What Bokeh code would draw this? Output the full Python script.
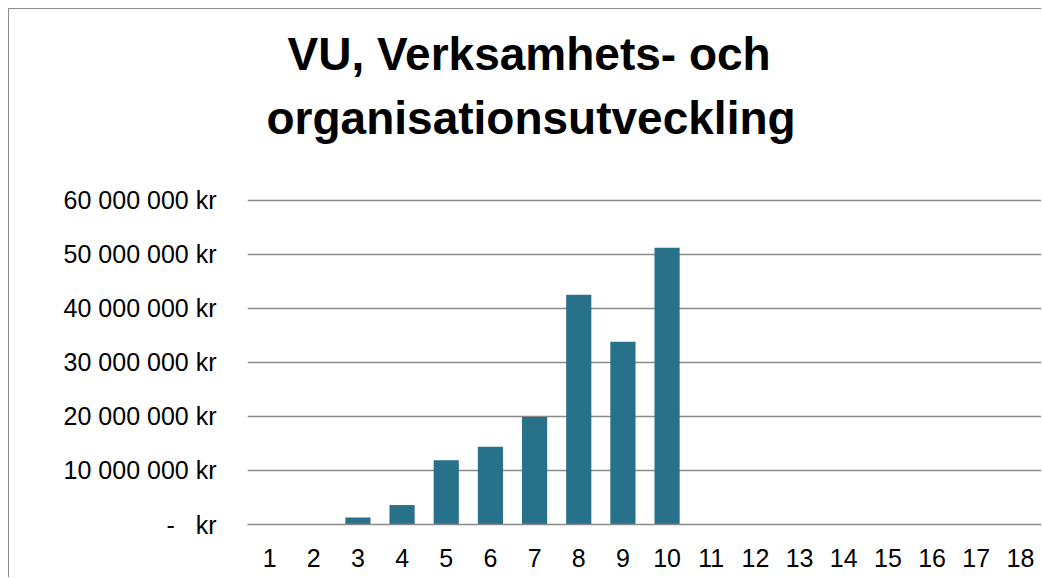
from bokeh.plotting import figure
from bokeh.models import FixedTicker, Title, ColumnDataSource
from bokeh.embed import file_html
from bokeh.resources import INLINE

categories = [str(i) for i in range(1, 19)]
values = [0, 0, 1300000, 3600000, 11900000, 14400000, 19900000, 42500000,
          33800000, 51200000, 0, 0, 0, 0, 0, 0, 0, 0]
y_ticks = [0, 10000000, 20000000, 30000000, 40000000, 50000000, 60000000]
y_tick_labels = ["-\u00a0\u00a0\u00a0kr", "10 000 000 kr", "20 000 000 kr",
                 "30 000 000 kr", "40 000 000 kr", "50 000 000 kr", "60 000 000 kr"]
title_lines = ["VU, Verksamhets- och", "organisationsutveckling"]

FONT = "Liberation Sans"
GRID = "#8a8a8a"
BAR = "#28718A"

p = figure(x_range=categories, y_range=(0, 60500000), width=1033, height=569,
           output_backend="svg", toolbar_location=None,
           min_border_left=238, min_border_right=0, min_border_bottom=54,
           min_border_top=188)
p.styles = {"margin-left": "8px", "margin-top": "8px",
            "border-left": "1px solid #8c8c8c", "border-top": "1px solid #8c8c8c"}
p.x_range.range_padding = 0
p.outline_line_color = None

src = ColumnDataSource(dict(
    x=[c for c, v in zip(categories, values) if v > 0],
    top=[v for v in values if v > 0]))
p.vbar(x="x", top="top", width=0.57, source=src, fill_color=BAR, line_color=None)

# titles (added from the frame outwards)
p.add_layout(Title(text=" ", text_font_size="33px", text_font=FONT), "above")
p.add_layout(Title(text=title_lines[1], text_font_size="46px", text_font=FONT,
                   text_font_style="bold", align="left", offset=19,
                   text_color="black"), "above")
p.add_layout(Title(text=title_lines[0], text_font_size="46px", text_font=FONT,
                   text_font_style="bold", align="left", offset=40,
                   text_color="black"), "above")

p.xgrid.grid_line_color = None
p.ygrid.grid_line_color = GRID
p.ygrid.grid_line_width = 1.6
p.yaxis.ticker = FixedTicker(ticks=y_ticks)
p.yaxis.major_label_overrides = {t: l for t, l in zip(y_ticks, y_tick_labels)}

for ax in (p.xaxis, p.yaxis):
    ax.axis_line_color = None
    ax.major_tick_line_color = None
    ax.minor_tick_line_color = None
    ax.major_label_text_font = FONT
    ax.major_label_text_font_size = "25px"
    ax.major_label_text_color = "black"

p.xaxis.axis_line_color = GRID
p.xaxis.axis_line_width = 1.6
p.yaxis.major_label_standoff = 25
p.xaxis.major_label_standoff = 18

open("out.html", "w").write(file_html(p, INLINE))
